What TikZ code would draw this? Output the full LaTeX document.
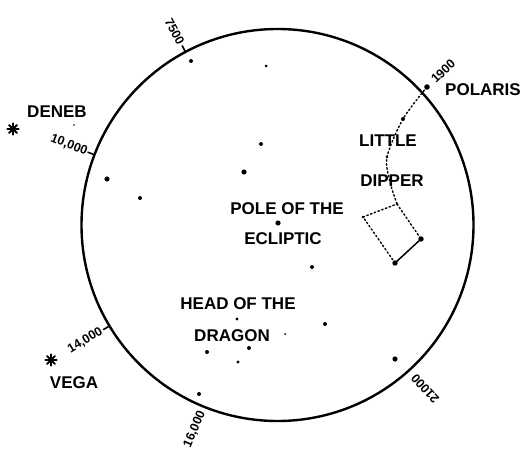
\documentclass[tikz,border=0pt]{standalone}
\usepackage{fontspec}
\setmainfont{Liberation Sans}
\usetikzlibrary{calc}
\begin{document}
\begin{tikzpicture}[x=1pt, y=1pt, line cap=round,
    lbl/.style={font=\fontsize{17}{19}\selectfont\bfseries, inner sep=0pt},
    yearlbl/.style={font=\fontsize{12.5}{14}\selectfont\bfseries, inner sep=0pt},
    ticmark/.style={line width=1.6pt},
    dipline/.style={line width=1.4pt, dash pattern=on 1.6pt off 2.4pt}]
\useasboundingbox (0,0) rectangle (521,450);

% circle traced by the pole
\coordinate (C) at (277.5,225);
\draw[line width=2.4pt] (C) circle (196pt);

% year marks
\foreach \a in {118,159,211}
  \draw[ticmark] ([shift={(\a:196)}]C) -- ([shift={(\a:203)}]C);
\node[yearlbl, anchor=east, rotate=-62] (y7500) at ([shift={(118:205)}]C) {7500};
\node[yearlbl, anchor=east, rotate=-21] (y10000) at ([shift={(159:204)}]C) {10,000};
\node[yearlbl, anchor=east, rotate=31] (y14000) at ([shift={(211:205)}]C) {14,000};
\node[yearlbl, anchor=east, rotate=67] (y16000) at ([shift={(248:201)}]C) {16,000};
\node[yearlbl, anchor=east, rotate=132] (y21000) at ([shift={(-48:203)}]C) {21000};
\node[yearlbl, anchor=west, rotate=44] (y1900) at (433,369) {1900};

% bright stars outside
\coordinate (deneb) at (13,321);
\coordinate (vega) at (51,90);
\foreach \s in {deneb,vega}
  \foreach \a in {0,45,90,135}
    \draw[line width=2.1pt] ([shift={(\a:5.5)}]\s) -- ([shift={(\a+180:5.5)}]\s);
\node[lbl] (denebl) at (57,338) {DENEB};
\node[lbl] (vegal) at (74,67) {VEGA};

% little dipper
\coordinate (polaris) at (427,363);
\coordinate (d1) at (403,331);
\coordinate (d2) at (387,293);
\coordinate (d3) at (397,246);
\coordinate (d4) at (363,233);
\coordinate (d5) at (421,211);
\coordinate (d6) at (395,187);
\draw[dipline] plot[smooth] coordinates {(polaris) (d1) (d2) (390,268) (d3)};
\draw[dipline] (d3) -- (d5);
\draw[line width=1.5pt] (d5) -- (d6);
\draw[dipline] (d6) -- (d4) -- (d3);
\foreach \p/\r in {polaris/2.8pt, d1/2pt, d2/1.3pt, d3/1.4pt, d4/1.3pt, d5/2.7pt, d6/2.7pt}
  \fill (\p) circle (\r);

% other stars
\foreach \x/\y/\r in {191/389/2pt, 266/384/1.5pt, 261/306/2pt, 244/278/2.6pt,
    107/271/2.6pt, 140/252/2pt, 278/227/2.6pt, 312/183/2pt, 325/126/2pt,
    237/131/1.6pt, 285/116/1pt, 207/98/2pt, 249/102/2pt, 238/88/1.6pt,
    395/91/2.6pt, 199/56/2pt, 74/325/0.9pt}
  \fill (\x,\y) circle (\r);

% labels
\node[lbl] (polarisl) at (483,360) {POLARIS};
\node[lbl] (little) at (388,309) {LITTLE};
\node[lbl] (dipper) at (392,269) {DIPPER};
\node[lbl] (pole) at (287,241) {POLE OF THE};
\node[lbl] (eclip) at (283,211) {ECLIPTIC};
\node[lbl] (head) at (238,146) {HEAD OF THE};
\node[lbl] (dragon) at (232,114) {DRAGON};
\end{tikzpicture}
\end{document}
